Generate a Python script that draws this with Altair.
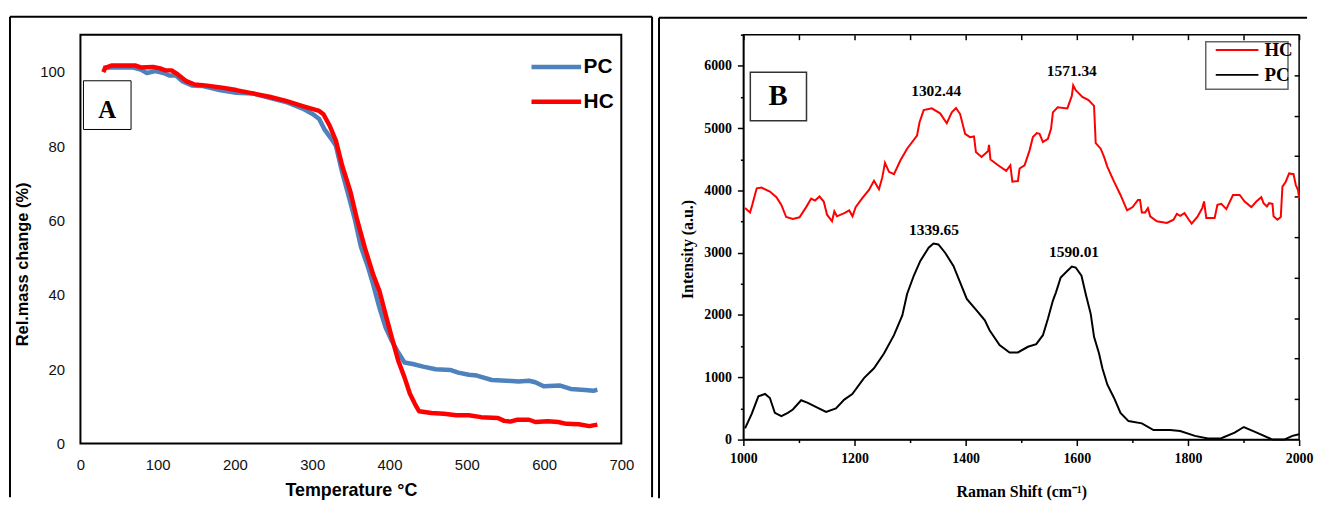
import altair as alt
import pandas as pd

# ---------------- Panel A : TGA ----------------
pc_temp = [29.6, 40, 67, 78, 86, 97, 107.5, 115.6, 123.7, 131.7, 145, 158.6, 180, 201.6, 223, 244.6, 266,
           287.6, 301, 309, 315.6, 325, 330.6, 338.7, 346.8, 354.8, 362.9, 372.6, 379, 387, 395, 403, 411.3,
           419.4, 430, 443.6, 459.7, 478.5, 489, 502.6, 513, 532.4, 551, 567, 580.6, 588.7, 599.5, 621, 634.5,
           653, 664, 669]
pc_mass = [101.1, 101.2, 101.2, 100.6, 99.7, 100.2, 99.7, 99.0, 99.0, 97.5, 96.3, 96.2, 95.1, 94.4, 94.2, 93.0,
           91.9, 90.1, 88.6, 87.3, 84.6, 81.9, 80.1, 73.0, 66.8, 60.6, 53.0, 47.2, 42.7, 36.5, 31.2, 27.6, 24.5,
           21.8, 21.4, 20.7, 20.0, 19.8, 19.1, 18.5, 18.3, 17.1, 16.9, 16.7, 16.9, 16.5, 15.4, 15.6, 14.7, 14.4,
           14.2, 14.5]
hc_temp = [29.6, 32, 40, 71.5, 78, 94, 102, 110, 118, 126, 137, 147.8, 164, 185.5, 201.6, 223, 244.6, 266,
           287.6, 309, 314.5, 322.6, 330.6, 338.7, 349.5, 357.6, 368.3, 379, 387, 395, 403, 411.3, 419.4, 426.4,
           432.8, 438.2, 454.3, 470.4, 486.6, 502.6, 518.7, 540.3, 548.4, 556.4, 564.5, 580.6, 588.7, 604.8,
           618.2, 629, 645, 658.6, 669]
hc_mass = [99.9, 101.1, 101.7, 101.7, 101.2, 101.3, 101.0, 100.4, 100.4, 99.3, 97.5, 96.6, 96.3, 95.7, 95.1,
           94.2, 93.3, 92.2, 90.8, 89.5, 88.6, 85.5, 81.5, 74.8, 67.7, 60.6, 52.5, 45.4, 41.0, 34.7, 28.5, 22.3,
           17.8, 13.4, 10.7, 8.7, 8.2, 8.0, 7.6, 7.6, 7.1, 6.9, 6.1, 5.9, 6.4, 6.4, 5.8, 6.0, 5.8, 5.3, 5.2, 4.7,
           5.1]
tga_series = ["PC", "HC"]
tga_colors = ["#4F81BD", "#FF0000"]
tga_x_ticks = [0, 100, 200, 300, 400, 500, 600, 700]
tga_y_ticks = [0, 20, 40, 60, 80, 100]

# ---------------- Panel B : Raman ----------------
pc_shift = [1003, 1015, 1027, 1039, 1047.7, 1056.6, 1068.4, 1080, 1089, 1104, 1116, 1134, 1148.8, 1166.6,
            1181.6, 1196, 1217, 1235, 1253, 1271, 1286, 1294.6, 1306.6, 1318.4, 1333.4, 1342, 1351, 1363, 1378,
            1390, 1402, 1419.6, 1434.5, 1443, 1461, 1479, 1494, 1512, 1527, 1539, 1548, 1557, 1562.5, 1571,
            1580, 1591, 1598, 1608.4, 1616, 1625, 1631, 1640, 1646, 1655, 1667, 1678.6, 1693, 1717, 1738, 1768,
            1786, 1812.5, 1836, 1860, 1884, 1900.5, 1919.6, 1952, 1973, 1988, 2000]
pc_int = [181, 413, 695, 732, 668, 429, 377, 429, 483, 631, 589, 509, 445, 499, 642, 731, 986, 1145, 1383,
          1676, 1994, 2337, 2630, 2868, 3080, 3148, 3133, 3000, 2789, 2523, 2258, 2073, 1914, 1755, 1517, 1399,
          1399, 1490, 1533, 1676, 1940, 2232, 2364, 2603, 2682, 2778, 2762, 2630, 2337, 2019, 1649, 1383, 1145,
          881, 668, 429, 297, 260, 154, 154, 138, 59, 16, 22, 111, 202, 127, 0, 0, 59, 86]
hc_shift = [1003, 1012, 1016, 1024, 1032.7, 1047.7, 1059.5, 1068.4, 1077, 1089, 1101, 1113, 1122, 1129, 1137,
            1144.6, 1150.6, 1159.5, 1163.7, 1168.4, 1181.6, 1190.5, 1196.4, 1202, 1214, 1226, 1235, 1244, 1250,
            1254.8, 1262, 1271, 1282.7, 1294.6, 1312.5, 1317, 1324.5, 1339, 1354, 1366, 1375, 1382.7, 1390, 1399,
            1407.7, 1415, 1418.4, 1428.6, 1440.5, 1442, 1444.6, 1458.4, 1473, 1480.4, 1484, 1494, 1497, 1506,
            1515, 1521, 1528, 1533, 1539, 1548, 1553.6, 1557, 1565.5, 1583, 1591, 1593.5, 1598, 1610, 1621, 1631,
            1634, 1643, 1649, 1655, 1667, 1678.6, 1690.5, 1700.5, 1710, 1713.7, 1717, 1723, 1728, 1732, 1744,
            1762, 1774, 1780, 1786, 1793.7, 1800.7, 1806.7, 1817.5, 1825.6, 1829, 1833, 1848, 1853, 1860, 1869,
            1881, 1893, 1902, 1914, 1923, 1932, 1936, 1942, 1946, 1952, 1954, 1961, 1967, 1970, 1976, 1982, 1990,
            1994, 1998, 2000]
hc_int = [3716, 3647, 3768, 4034, 4045, 3981, 3891, 3768, 3573, 3541, 3568, 3732, 3870, 3838, 3902, 3822, 3610,
          3504, 3663, 3584, 3636, 3679, 3584, 3732, 3875, 4007, 4156, 4018, 4209, 4442, 4299, 4261, 4484, 4670,
          4881, 5094, 5290, 5317, 5237, 5078, 5253, 5322, 5226, 4908, 4855, 4866, 4617, 4538, 4633, 4733, 4495,
          4404, 4315, 4404, 4140, 4150, 4352, 4404, 4643, 4856, 4920, 4908, 4776, 4829, 4988, 5253, 5333, 5317,
          5517, 5687, 5608, 5501, 5449, 5358, 4760, 4670, 4538, 4379, 4140, 3927, 3679, 3732, 3848, 3848, 3647,
          3647, 3716, 3584, 3504, 3477, 3530, 3625, 3593, 3636, 3541, 3466, 3584, 3716, 3822, 3557, 3557, 3768,
          3784, 3700, 3927, 3927, 3822, 3732, 3822, 3891, 3795, 3743, 3795, 3784, 3584, 3530, 3573, 4061, 4140,
          4272, 4261, 4086, 4007, 3875]
raman_series = ["HC", "PC"]
raman_colors = ["#FF0000", "#000000"]
peak_labels = ["1302.44", "1571.34", "1339.65", "1590.01"]
peak_x = [1347, 1591, 1343, 1595]
peak_y = [5591, 5909, 3363, 3013]
raman_x_ticks = list(range(1000, 2001, 100))
raman_y_ticks = list(range(0, 6501, 500))
raman_right_ticks = [650, 1300, 1950, 2600, 3250, 3900, 4550, 5200, 5850]

# ---------------- build tables ----------------
tga_df = pd.concat([
    pd.DataFrame({"t": pc_temp, "m": pc_mass, "s": "PC"}),
    pd.DataFrame({"t": hc_temp, "m": hc_mass, "s": "HC"}),
])
raman_df = pd.concat([
    pd.DataFrame({"r": pc_shift, "i": pc_int, "s": "PC"}),
    pd.DataFrame({"r": hc_shift, "i": hc_int, "s": "HC"}),
])
peaks_df = pd.DataFrame({"r": peak_x, "i": peak_y, "lab": peak_labels})
one = pd.DataFrame({"k": [0]})

SANS = "Liberation Sans, Arial, sans-serif"
SERIF = "Liberation Serif, Times New Roman, serif"
LINE_SYMBOL = "M-5,0H5"

# ---------------- Panel A ----------------
lx = alt.Scale(domain=[0, 700], nice=False, zero=False)
ly = alt.Scale(domain=[0, 110], nice=False, zero=False)
tga_color = alt.Color(
    "s:N",
    scale=alt.Scale(domain=tga_series, range=tga_colors),
    legend=alt.Legend(orient="none", legendX=469, legendY=22, title=None, symbolType=LINE_SYMBOL,
                      symbolSize=100, symbolStrokeWidth=4.5, labelFont=SANS, labelFontWeight="bold",
                      labelFontSize=21, labelColor="black", rowPadding=13, labelOffset=17, padding=0),
)
x_axis_a = alt.Axis(values=tga_x_ticks, ticks=False, domain=False, grid=False, labelFont=SANS,
                    labelFontSize=15, labelColor="#111", labelPadding=14, labelFlush=False,
                    title="Temperature °C", titleFont=SANS, titleFontSize=18, titleFontWeight="bold",
                    titleColor="black", titlePadding=9)
y_axis_a = alt.Axis(values=tga_y_ticks, ticks=False, domain=False, grid=False, labelFont=SANS,
                    labelFontSize=15, labelColor="#111", labelPadding=16, labelFlush=False,
                    title="Rel.mass change (%)", titleFont=SANS, titleFontSize=16.5, titleFontWeight="bold",
                    titleColor="black", titlePadding=9, titleY=231)

pc_line = alt.Chart(tga_df[tga_df.s == "PC"]).mark_line(strokeWidth=4.5, strokeJoin="round").encode(
    x=alt.X("t:Q", scale=lx, axis=x_axis_a),
    y=alt.Y("m:Q", scale=ly, axis=y_axis_a),
    color=tga_color,
)
hc_line = alt.Chart(tga_df[tga_df.s == "HC"]).mark_line(strokeWidth=4.5, strokeJoin="round").encode(
    x=alt.X("t:Q", scale=lx, axis=None),
    y=alt.Y("m:Q", scale=ly, axis=None),
    color=tga_color,
)
boxA_df = pd.DataFrame({"x": [3.9], "x2": [65.5], "y": [84.5], "y2": [97.6], "tx": [34.7], "ty": [89.6],
                        "lab": ["A"]})
boxA = alt.Chart(boxA_df).mark_rect(fill="white", stroke="black", strokeWidth=1).encode(
    x=alt.X("x:Q", scale=lx, axis=None), x2="x2:Q",
    y=alt.Y("y:Q", scale=ly, axis=None), y2="y2:Q",
)
textA = alt.Chart(boxA_df).mark_text(font=SERIF, fontWeight="bold", fontSize=25, baseline="middle",
                                     color="black").encode(
    x=alt.X("tx:Q", scale=lx, axis=None), y=alt.Y("ty:Q", scale=ly, axis=None), text="lab:N")

bA_top = alt.Chart(one).mark_rule(color="black", strokeWidth=2).encode(
    x=alt.value(-71), x2=alt.value(576), y=alt.value(-18))
bA_left = alt.Chart(one).mark_rule(color="black", strokeWidth=2).encode(
    x=alt.value(-71), y=alt.value(-18), y2=alt.value(466))
bA_right = alt.Chart(one).mark_rule(color="black", strokeWidth=2).encode(
    x=alt.value(576), y=alt.value(-18), y2=alt.value(466))

panelA = alt.layer(pc_line, hc_line, boxA, textA, bA_top, bA_left, bA_right).resolve_axis(
    x="independent", y="independent").properties(
    width=545, height=412, view=alt.ViewBackground(stroke="black", strokeWidth=2))

# ---------------- Panel B ----------------
rx = alt.Scale(domain=[1000, 2000], nice=False, zero=False)
ry = alt.Scale(domain=[0, 6500], nice=False, zero=False)
raman_color = alt.Color(
    "s:N",
    scale=alt.Scale(domain=raman_series, range=raman_colors),
    legend=alt.Legend(orient="none", legendX=484, legendY=2, title=None, symbolType=LINE_SYMBOL,
                      symbolSize=74, symbolStrokeWidth=2, labelFont=SERIF, labelFontWeight="bold",
                      labelFontSize=19, labelColor="black", rowPadding=5, labelOffset=18, padding=4),
)
x_axis_b = alt.Axis(values=raman_x_ticks, format="d",
                    labelExpr="datum.value % 200 === 0 ? datum.label : ''",
                    tickSize={"condition": {"test": "datum.value % 200 === 0", "value": 6}, "value": 3},
                    tickWidth=1.5, tickColor="black", domain=True, domainColor="black", domainWidth=1.5,
                    grid=False, labelFont=SERIF, labelFontWeight="bold", labelFontSize=14, labelColor="black",
                    labelPadding=6, labelFlush=False, title="Raman Shift (cm⁻¹)", titleFont=SERIF,
                    titleFontSize=16, titleFontWeight="bold", titleColor="black", titlePadding=18)
y_axis_b = alt.Axis(values=raman_y_ticks, format="d",
                    labelExpr="datum.value % 1000 === 0 ? datum.label : ''",
                    tickSize={"condition": {"test": "datum.value % 1000 === 0", "value": 6}, "value": 3},
                    tickWidth=1.5, tickColor="black", domain=True, domainColor="black", domainWidth=1.5,
                    grid=False, labelFont=SERIF, labelFontWeight="bold", labelFontSize=14, labelColor="black",
                    labelPadding=6, labelFlush=False, title="Intensity (a.u.)", titleFont=SERIF,
                    titleFontSize=16, titleFontWeight="bold", titleColor="black", titlePadding=8, titleY=216)

raman_lines = alt.Chart(raman_df).mark_line(strokeWidth=2).encode(
    x=alt.X("r:Q", scale=rx, axis=x_axis_b),
    y=alt.Y("i:Q", scale=ry, axis=y_axis_b),
    color=raman_color,
    detail="s:N",
)
peaks = alt.Chart(peaks_df).mark_text(font=SERIF, fontWeight="bold", fontSize=15.5, baseline="middle",
                                      color="black").encode(
    x=alt.X("r:Q", scale=rx, axis=alt.Axis(orient="top", values=raman_x_ticks, labels=False, domain=False,
                                           ticks=True, tickSize=5, tickWidth=1.5, tickColor="black",
                                           offset=-5, grid=False, title=None)),
    y=alt.Y("i:Q", scale=ry, axis=alt.Axis(orient="right", values=raman_right_ticks, labels=False,
                                           domain=False, ticks=True, tickSize=5, tickWidth=1.5,
                                           tickColor="black", offset=-5, grid=False, title=None)),
    text="lab:N",
)
boxB_df = pd.DataFrame({"x": [1012.5], "x2": [1113.6], "y": [5119], "y2": [5898], "tx": [1062.5],
                        "ty": [5512], "lab": ["B"]})
boxB = alt.Chart(boxB_df).mark_rect(fill="white", stroke="#333", strokeWidth=1.5).encode(
    x=alt.X("x:Q", scale=rx, axis=None), x2="x2:Q",
    y=alt.Y("y:Q", scale=ry, axis=None), y2="y2:Q",
)
textB = alt.Chart(boxB_df).mark_text(font=SERIF, fontWeight="bold", fontSize=29, baseline="middle",
                                     color="black").encode(
    x=alt.X("tx:Q", scale=rx, axis=None), y=alt.Y("ty:Q", scale=ry, axis=None), text="lab:N")
legend_frame_df = pd.DataFrame({"x": [1832], "x2": [1980], "y": [5624], "y2": [6387]})
legend_frame = alt.Chart(legend_frame_df).mark_rect(fill="white", stroke="#666", strokeWidth=1.5).encode(
    x=alt.X("x:Q", scale=rx, axis=None), x2="x2:Q",
    y=alt.Y("y:Q", scale=ry, axis=None), y2="y2:Q",
)

bB_top = alt.Chart(one).mark_rule(color="black", strokeWidth=2).encode(
    x=alt.value(-85), x2=alt.value(568), y=alt.value(-17))
bB_left = alt.Chart(one).mark_rule(color="black", strokeWidth=2).encode(
    x=alt.value(-85), y=alt.value(-17), y2=alt.value(467))

panelB = alt.layer(raman_lines, peaks, boxB, textB, legend_frame, bB_top, bB_left).resolve_axis(
    x="independent", y="independent").properties(
    width=560, height=408, view=alt.ViewBackground(stroke="black", strokeWidth=1.5))

chart = alt.hconcat(panelA, panelB, spacing=3).resolve_scale(color="independent").properties(
    padding={"left": 0, "top": 5, "right": 0, "bottom": 0},
    background="white",
)
chart.save("out.html", embed_options={"renderer": "svg", "actions": False})
